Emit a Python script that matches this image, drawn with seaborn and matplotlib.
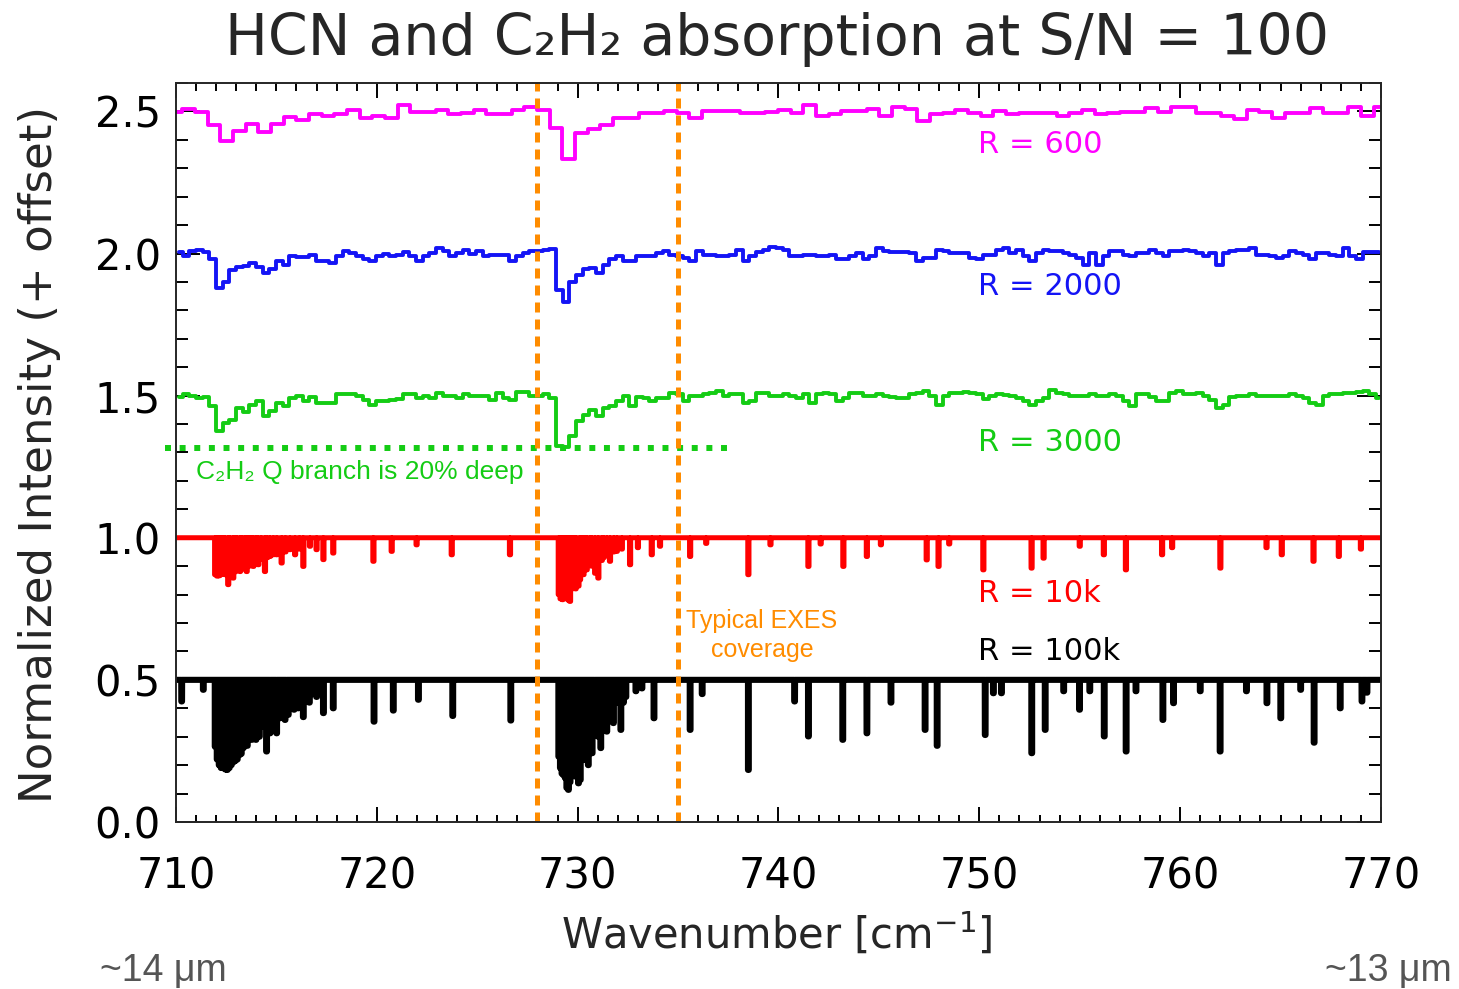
import numpy as np
import pandas as pd
import matplotlib
matplotlib.use("Agg")
import matplotlib.pyplot as plt
from matplotlib.ticker import MultipleLocator, FormatStrFormatter
import seaborn as sns

# ---- data (normalized flux) ----
# R = 600: one value per resolution bin, bins of 0.631 cm-1 starting at 710
r600_start, r600_step = 710.0, 0.631
r600_flux = [
    0.999, 1.009, 0.999, 0.952, 0.896, 0.931, 0.954, 0.927, 0.954, 0.980,
    0.968, 0.992, 0.984, 0.990, 1.005, 0.978, 0.984, 0.978, 1.022, 0.999,
    0.999, 1.004, 0.990, 0.996, 1.004, 0.990, 0.990, 1.004, 1.016, 1.004,
    0.943, 0.831, 0.923, 0.937, 0.952, 0.978, 0.978, 0.995, 0.995, 1.000,
    0.995, 0.978, 1.001, 1.001, 1.001, 0.995, 0.995, 0.999, 1.005, 0.995,
    1.022, 0.984, 0.990, 1.001, 1.001, 1.007, 0.984, 1.016, 1.007, 0.966,
    0.990, 0.995, 1.005, 0.995, 0.984, 1.001, 0.992, 0.995, 0.995, 0.995,
    0.984, 0.995, 1.005, 0.990, 0.995, 0.999, 0.999, 1.011, 0.999, 1.016,
    1.016, 0.995, 0.995, 0.984, 0.972, 1.005, 0.999, 0.978, 0.995, 0.995,
    1.011, 0.995, 0.995, 1.016, 0.984, 1.016,
]

# R = 2000 and R = 3000: read every 0.332 cm-1 starting at 710.166
mid_start, mid_step = 710.166, 0.332
r2000_flux = [
    1.005, 0.993, 1.008, 1.012, 1.005, 0.979, 0.880, 0.900, 0.941, 0.953,
    0.955, 0.967, 0.953, 0.932, 0.946, 0.973, 0.961, 0.993, 0.987, 0.988,
    0.994, 0.973, 0.973, 0.965, 0.991, 1.009, 1.002, 0.991, 0.979, 0.973,
    0.991, 1.000, 0.991, 0.996, 1.005, 0.991, 0.973, 0.991, 1.002, 1.020,
    1.008, 0.991, 1.002, 1.014, 1.000, 1.008, 0.991, 0.996, 0.996, 0.996,
    0.973, 0.993, 1.002, 1.008, 1.008, 1.012, 1.016, 0.870, 0.830, 0.900,
    0.926, 0.944, 0.950, 0.932, 0.961, 0.979, 0.991, 0.973, 0.973, 0.991,
    0.991, 0.991, 1.002, 1.008, 0.996, 0.991, 0.985, 0.973, 1.008, 0.996,
    0.996, 0.991, 0.991, 0.996, 1.014, 0.973, 0.991, 1.005, 1.014, 1.024,
    1.020, 1.014, 0.991, 0.991, 0.996, 0.996, 0.991, 0.991, 0.996, 0.979,
    0.979, 0.991, 1.002, 0.979, 0.991, 1.020, 1.008, 1.005, 1.005, 1.005,
    1.002, 0.973, 0.985, 0.985, 1.012, 1.008, 1.002, 1.002, 1.002, 0.985,
    0.979, 0.996, 0.996, 1.014, 1.020, 1.002, 1.014, 0.991, 0.973, 1.002,
    1.012, 1.008, 1.008, 1.002, 0.996, 0.985, 0.961, 1.002, 0.961, 0.991,
    1.008, 1.008, 0.996, 0.991, 1.002, 1.002, 1.014, 1.002, 0.991, 1.008,
    1.008, 1.014, 1.008, 1.002, 0.991, 1.002, 0.961, 1.002, 1.008, 1.014,
    1.014, 1.020, 0.996, 0.996, 0.991, 0.985, 0.991, 1.008, 1.002, 0.996,
    0.979, 1.002, 1.002, 0.996, 0.991, 1.020, 0.991, 0.979, 1.005, 1.005,
    1.005,
]
r3000_flux = [
    0.995, 1.004, 1.000, 0.992, 0.995, 0.962, 0.874, 0.904, 0.915, 0.956,
    0.941, 0.968, 0.980, 0.930, 0.945, 0.974, 0.962, 0.992, 0.998, 0.980,
    0.995, 0.974, 0.974, 0.974, 1.007, 1.004, 1.004, 0.998, 0.986, 0.968,
    0.980, 0.980, 0.986, 0.988, 1.004, 1.004, 0.992, 0.998, 0.992, 1.009,
    0.998, 0.998, 0.992, 1.004, 0.998, 1.000, 0.998, 0.986, 1.009, 0.992,
    0.986, 1.012, 1.012, 0.998, 1.000, 1.004, 0.992, 0.822, 0.820, 0.857,
    0.910, 0.933, 0.948, 0.927, 0.956, 0.962, 0.980, 0.998, 0.962, 0.995,
    0.992, 0.980, 0.992, 0.992, 1.009, 1.004, 0.980, 0.998, 0.998, 1.004,
    1.009, 1.015, 0.998, 1.004, 1.004, 0.974, 0.980, 1.009, 1.009, 0.998,
    1.000, 1.004, 0.998, 0.992, 1.004, 0.974, 1.007, 1.009, 1.004, 0.980,
    0.992, 1.009, 1.009, 0.998, 1.000, 1.004, 0.998, 0.995, 0.992, 0.992,
    1.004, 1.009, 1.015, 0.998, 0.968, 0.998, 1.009, 1.009, 1.012, 1.009,
    1.004, 0.988, 0.998, 1.004, 1.002, 0.998, 0.992, 0.980, 0.968, 0.980,
    0.992, 1.019, 1.009, 1.004, 0.998, 0.998, 1.000, 1.007, 0.998, 1.000,
    1.004, 1.000, 0.980, 0.965, 1.004, 1.007, 0.995, 0.980, 0.980, 1.009,
    1.015, 1.004, 1.007, 1.009, 1.000, 0.986, 0.956, 0.968, 0.995, 0.998,
    0.998, 1.004, 1.000, 0.998, 0.998, 1.000, 1.000, 1.004, 1.000, 0.992,
    0.974, 0.968, 0.998, 1.004, 1.007, 1.009, 1.009, 1.012, 1.015, 1.007,
    0.992,
]

# R = 10k: absorption lines (centre in cm-1, flux at line bottom)
r10k_centres = [
    711.95, 712.05, 712.15, 712.25, 712.35, 712.45, 712.60, 712.70, 712.85, 712.95,
    713.05, 713.19, 713.30, 713.42, 713.52, 713.65, 713.75, 713.85, 713.97, 714.10,
    714.25, 714.43, 714.55, 714.68, 714.85, 715.01, 715.26, 715.45, 715.68, 715.93,
    716.15, 716.34, 716.67, 717.00, 717.34, 717.83, 719.83, 720.74, 721.98, 723.73,
    726.63,
    729.06, 729.15, 729.25, 729.35, 729.45, 729.55, 729.62, 729.72, 729.80, 729.90,
    730.00, 730.04, 730.12, 730.20, 730.29, 730.38, 730.45, 730.60, 730.70, 730.87,
    731.03, 731.20, 731.30, 731.45, 731.61, 731.80, 731.95, 732.20, 732.61, 733.00,
    733.69, 734.10, 735.60, 736.40, 738.50, 739.60, 741.49, 742.10, 743.23, 744.40,
    745.10, 747.38, 747.97, 748.50, 750.20, 752.60, 753.20, 755.00, 756.20, 757.30,
    759.10, 759.60, 762.00, 764.30, 765.06, 766.64, 767.90, 769.00,
]
r10k_bottoms = [
    0.870, 0.865, 0.866, 0.870, 0.875, 0.870, 0.835, 0.875, 0.858, 0.880,
    0.885, 0.881, 0.890, 0.895, 0.881, 0.900, 0.910, 0.899, 0.915, 0.905,
    0.925, 0.881, 0.930, 0.934, 0.940, 0.940, 0.911, 0.950, 0.958, 0.940,
    0.960, 0.899, 0.970, 0.958, 0.923, 0.946, 0.917, 0.952, 0.975, 0.940,
    0.940,
    0.800, 0.785, 0.782, 0.790, 0.785, 0.780, 0.776, 0.820, 0.840, 0.820,
    0.860, 0.830, 0.852, 0.880, 0.870, 0.900, 0.887, 0.910, 0.900, 0.875,
    0.858, 0.920, 0.930, 0.940, 0.917, 0.950, 0.952, 0.960, 0.905, 0.965,
    0.940, 0.970, 0.934, 0.980, 0.870, 0.975, 0.899, 0.978, 0.899, 0.934,
    0.975, 0.922, 0.899, 0.978, 0.887, 0.893, 0.928, 0.970, 0.940, 0.887,
    0.940, 0.965, 0.893, 0.965, 0.940, 0.917, 0.934, 0.960,
]

# R = 100k: absorption lines (centre in cm-1, flux at line bottom)
r100k_centres = [
    710.28, 711.36,
    711.95, 712.05, 712.15, 712.25, 712.35, 712.45, 712.55, 712.65, 712.75, 712.85,
    712.95, 713.05, 713.15, 713.25, 713.35, 713.45, 713.55, 713.66, 713.77, 713.88,
    713.98, 714.07, 714.15, 714.25, 714.35, 714.43, 714.51, 714.60, 714.68, 714.77,
    714.85, 714.93, 715.01, 715.10, 715.18, 715.30, 715.43, 715.50, 715.59, 715.73,
    715.88, 716.00, 716.09, 716.20, 716.34, 716.50, 716.64, 716.80, 717.00, 717.34,
    717.83, 719.86, 720.82, 722.07, 723.78, 726.67,
    729.06, 729.14, 729.22, 729.30, 729.38, 729.46, 729.54, 729.62, 729.70, 729.79,
    729.88, 729.96, 730.04, 730.13, 730.22, 730.30, 730.40, 730.53, 730.62, 730.72,
    730.85, 731.03, 731.15, 731.30, 731.45, 731.62, 731.78, 731.95, 732.15, 732.28,
    732.40, 732.90, 733.20, 733.80, 735.60, 736.20, 738.50, 740.80, 741.49, 743.20,
    744.40, 745.60, 747.30, 747.90, 750.29, 750.70, 751.10, 752.61, 753.28, 754.20,
    754.99, 755.50, 756.22, 757.31, 757.80, 759.14, 759.67, 761.00, 761.99, 763.30,
    764.32, 765.01, 766.00, 766.67, 767.97, 769.05, 769.30,
]
r100k_bottoms = [
    0.924, 0.965,
    0.765, 0.720, 0.700, 0.690, 0.690, 0.685, 0.683, 0.690, 0.700, 0.710,
    0.715, 0.720, 0.735, 0.740, 0.760, 0.770, 0.768, 0.850, 0.789, 0.840,
    0.789, 0.850, 0.800, 0.860, 0.836, 0.870, 0.748, 0.870, 0.812, 0.880,
    0.830, 0.880, 0.812, 0.890, 0.865, 0.900, 0.859, 0.910, 0.877, 0.920,
    0.895, 0.930, 0.900, 0.940, 0.869, 0.950, 0.920, 0.950, 0.940, 0.883,
    0.900, 0.853, 0.892, 0.930, 0.873, 0.857,
    0.730, 0.690, 0.670, 0.665, 0.655, 0.620, 0.613, 0.640, 0.670, 0.680,
    0.660, 0.700, 0.636, 0.648, 0.720, 0.718, 0.760, 0.700, 0.800, 0.742,
    0.820, 0.800, 0.760, 0.900, 0.818, 0.950, 0.848, 0.920, 0.824, 0.920,
    0.940, 0.960, 0.970, 0.865, 0.824, 0.950, 0.683, 0.924, 0.801, 0.789,
    0.812, 0.920, 0.824, 0.768, 0.806, 0.953, 0.953, 0.742, 0.824, 0.960,
    0.895, 0.960, 0.801, 0.748, 0.960, 0.859, 0.918, 0.960, 0.748, 0.960,
    0.918, 0.865, 0.965, 0.779, 0.900, 0.924, 0.955,
]

labels = ["R = 600", "R = 2000", "R = 3000", "R = 10k", "R = 100k"]
offsets = [1.5, 1.0, 0.5, 0.0, -0.5]
label_y = [2.384, 1.884, 1.335, 0.803, 0.599]

COLORS = ["#FF00FF", "#1414F5", "#14CC14", "#FF0000", "#000000"]
ORANGE = "#FF8C00"
exes_edges = [728.0, 735.0]
q_branch_level = 1.317


def binned(start, step, flux):
    wn = start + step * np.arange(len(flux))
    return pd.DataFrame({"wn": wn, "flux": flux})


def line_spectrum(centres, bottoms, halfwidth):
    # continuum at 1 with box-shaped dips at the listed lines
    wn = np.arange(710.0, 770.0 + 1e-9, 0.005)
    flux = np.ones_like(wn)
    for c, b in zip(centres, bottoms):
        inside = np.abs(wn - c) <= halfwidth
        flux[inside] = np.minimum(flux[inside], b)
    return pd.DataFrame({"wn": wn, "flux": flux})


spectra = [
    binned(r600_start, r600_step, r600_flux),
    binned(mid_start, mid_step, r2000_flux),
    binned(mid_start, mid_step, r3000_flux),
    line_spectrum(r10k_centres, r10k_bottoms, 0.03),
    line_spectrum(r100k_centres, r100k_bottoms, 0.02),
]
widths = [2.8, 2.8, 2.8, 3.6, 4.4]

sns.set_style("ticks")
plt.rcParams["font.family"] = ["DejaVu Sans"]

fig = plt.figure(figsize=(14.59, 9.89), dpi=100)
ax = fig.add_axes([0.1206, 0.1689, 0.8259, 0.7472])

# draw from bottom to top so the upper traces sit above
for df, off, col, lw in reversed(list(zip(spectra, offsets, COLORS, widths))):
    d = df.assign(y=df["flux"] + off)
    sns.lineplot(data=d, x="wn", y="y", ax=ax, color=col, lw=lw,
                 drawstyle="steps-mid", estimator=None, sort=False)

for lab, ly, col in zip(labels, label_y, COLORS):
    ax.text(749.95, ly, lab, color=col, fontsize=22, ha="left", va="center")

# C2H2 Q-branch depth marker
ax.plot([709.45, 737.6], [q_branch_level, q_branch_level], color=COLORS[2],
        lw=4.3, dashes=(1.0, 1.45), dash_capstyle="butt", clip_on=False)
ax.text(711.0, 1.232, "C₂H₂ Q branch is 20% deep", color=COLORS[2],
        fontsize=19, family=["Liberation Sans", "DejaVu Sans"],
        ha="left", va="center")

for e in exes_edges:
    ax.axvline(e, color=ORANGE, lw=3.6, dashes=(2.0, 1.4))
ax.text(739.18, 0.655, "Typical EXES\ncoverage", color=ORANGE, fontsize=18,
        family=["Liberation Sans", "DejaVu Sans"], ha="center", va="center",
        linespacing=1.25)

ax.set_xlim(710, 770)
ax.set_ylim(0, 2.6)
ax.xaxis.set_major_locator(MultipleLocator(10))
ax.xaxis.set_minor_locator(MultipleLocator(1))
ax.yaxis.set_major_locator(MultipleLocator(0.5))
ax.yaxis.set_minor_locator(MultipleLocator(0.1))
ax.yaxis.set_major_formatter(FormatStrFormatter("%.1f"))
ax.set_xlabel("")
ax.set_ylabel("")
ax.tick_params(which="both", direction="in", top=True, right=True,
               width=1.4, colors="black", labelsize=30)
ax.tick_params(axis="x", which="major", length=10.8, pad=24)
ax.tick_params(axis="x", which="minor", length=5.4)
ax.tick_params(axis="y", which="major", length=17.3, pad=11)
ax.tick_params(axis="y", which="minor", length=8.6)
for s in ax.spines.values():
    s.set_visible(True)
    s.set_linewidth(1.4)

fig.text(0.5327, 0.9596, "HCN and C₂H₂ absorption at S/N = 100",
         fontsize=41, ha="center", va="center")
fig.text(0.0274, 0.54, "Normalized Intensity (+ offset)", fontsize=32.5,
         rotation=90, ha="center", va="center")
fig.text(0.5326, 0.0546, "Wavenumber [cm$^{-1}$]", fontsize=30,
         ha="center", va="center")
fig.text(0.0685, 0.018, "~14 μm", fontsize=27, color="#555555",
         family=["Liberation Sans", "DejaVu Sans"], ha="left", va="center")
fig.text(0.908, 0.018, "~13 μm", fontsize=27, color="#555555",
         family=["Liberation Sans", "DejaVu Sans"], ha="left", va="center")

fig.savefig("out.png", dpi=100)
